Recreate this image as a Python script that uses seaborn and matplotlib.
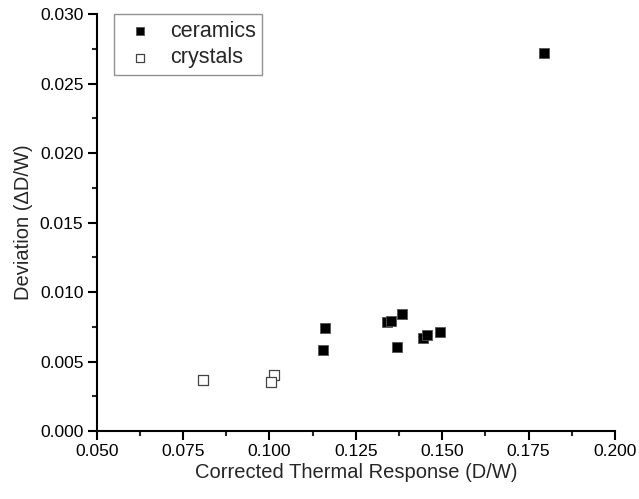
import matplotlib
matplotlib.use("Agg")
import matplotlib.pyplot as plt
import seaborn as sns
import pandas as pd
from matplotlib.ticker import MultipleLocator

# values
ceramics_x = [0.1794, 0.1161, 0.1156, 0.1341, 0.1352, 0.1384, 0.1368, 0.1445, 0.1455, 0.1493]
ceramics_y = [0.02724, 0.00744, 0.00583, 0.00787, 0.00794, 0.00845, 0.00603, 0.00667, 0.00691, 0.00711]
crystals_x = [0.0809, 0.1014, 0.1005]
crystals_y = [0.00367, 0.00403, 0.00355]

df = pd.DataFrame({
    "x": ceramics_x + crystals_x,
    "y": ceramics_y + crystals_y,
    "group": ["ceramics"] * len(ceramics_x) + ["crystals"] * len(crystals_x),
})

sns.set_style("ticks")
plt.rcParams["font.family"] = ["Liberation Sans", "DejaVu Sans"]

fig = plt.figure(figsize=(6.39, 4.99), dpi=100)
ax = fig.add_axes([0.1513, 0.1363, 0.8111, 0.835])

sns.scatterplot(data=df[df.group == "ceramics"], x="x", y="y", marker="s", s=55,
                color="black", edgecolor="#555555", linewidth=0.6, label="ceramics", ax=ax)
sns.scatterplot(data=df[df.group == "crystals"], x="x", y="y", marker="s", s=55,
                facecolor="white", edgecolor="#444444", linewidth=0.9, label="crystals", ax=ax)

ax.set_xlim(0.05, 0.2)
ax.set_ylim(0.0, 0.03)
ax.xaxis.set_major_locator(MultipleLocator(0.025))
ax.xaxis.set_minor_locator(MultipleLocator(0.0125))
ax.yaxis.set_major_locator(MultipleLocator(0.005))
ax.yaxis.set_minor_locator(MultipleLocator(0.0025))
ax.xaxis.set_major_formatter(plt.FormatStrFormatter("%.3f"))
ax.yaxis.set_major_formatter(plt.FormatStrFormatter("%.3f"))
ax.tick_params(which="major", length=6.5, width=1.5, labelsize=12.5, colors="black", pad=3)
ax.tick_params(which="minor", length=3.5, width=1.5)

sns.despine(ax=ax)
for sp in ["left", "bottom"]:
    ax.spines[sp].set_linewidth(1.5)
    ax.spines[sp].set_color("black")

ax.set_xlabel("Corrected Thermal Response (D/W)", fontsize=14.5, labelpad=3)
ax.set_ylabel("Deviation (\u0394D/W)", fontsize=14.5, labelpad=5)

leg = ax.legend(loc="upper left", bbox_to_anchor=(0.1784, 0.9713), bbox_transform=fig.transFigure,
                fontsize=15.5, frameon=True, fancybox=False, borderpad=0.3,
                handlelength=1.8, handletextpad=0.5, labelspacing=0.25,
                borderaxespad=0, markerscale=0.75)
leg.get_frame().set_edgecolor("#777777")
leg.get_frame().set_linewidth(1.0)

fig.savefig("out.png", dpi=100)
